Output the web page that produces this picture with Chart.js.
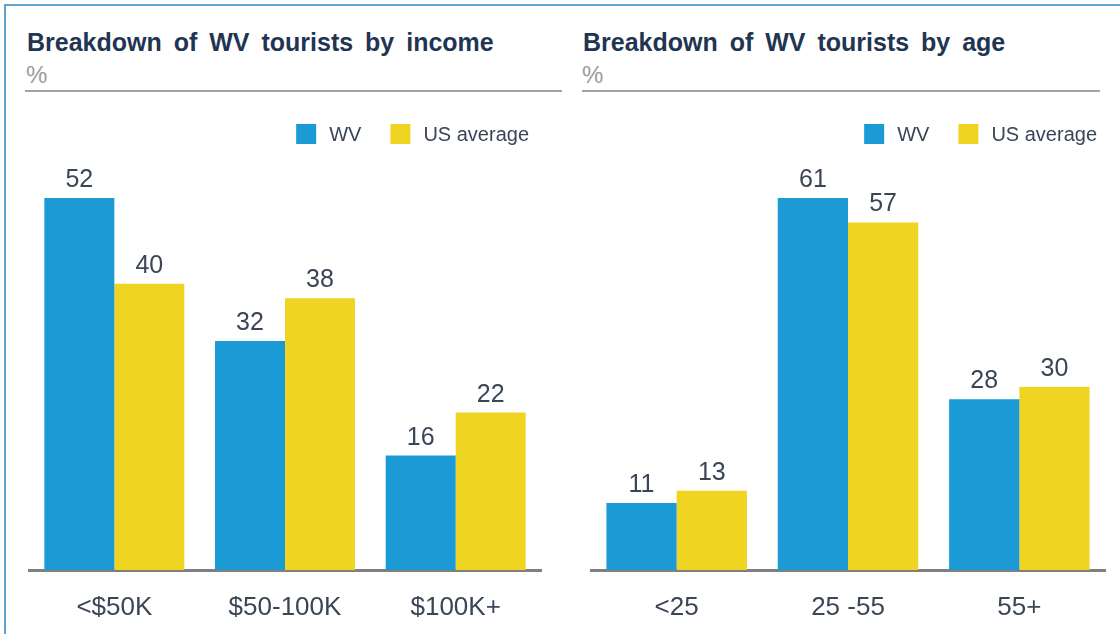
<!DOCTYPE html>
<html>
<head>
<meta charset="utf-8">
<script src="https://cdn.jsdelivr.net/npm/chart.js@4/dist/chart.umd.min.js"></script>
<style>
  html, body { margin:0; padding:0; background:#fff; }
  body { width:1120px; height:634px; position:relative; overflow:hidden; font-family:"Liberation Sans", Arial, sans-serif; }
  .frame { position:absolute; left:4px; top:4px; width:1200px; height:700px; border:2px solid #5ba5d1; box-sizing:border-box; }
  .title { position:absolute; font-weight:bold; font-size:25px; line-height:25px; letter-spacing:0; word-spacing:5px; color:#1f3552; white-space:nowrap; }
  .unit { position:absolute; font-size:24px; line-height:24px; color:#9b9b9b; }
  .rule { position:absolute; height:2px; background:#a3a3a3; top:90px; }
  .wrap { position:absolute; top:100px; width:545px; height:534px; }
</style>
</head>
<body>
<div class="frame"></div>
<div class="title" style="left:27px; top:30px;">Breakdown of WV tourists by income</div>
<div class="unit" style="left:26px; top:63px;">%</div>
<div class="rule" style="left:25px; width:537px;"></div>
<div class="title" style="left:583px; top:30px;">Breakdown of WV tourists by age</div>
<div class="unit" style="left:582px; top:63px;">%</div>
<div class="rule" style="left:582px; width:518px;"></div>
<div class="wrap" style="left:20px;"><canvas id="c1" width="545" height="534"></canvas></div>
<div class="wrap" style="left:575px;"><canvas id="c2" width="545" height="534"></canvas></div>
<script>
const incomeCategories = ['<$50K', '$50-100K', '$100K+'];
const incomeWV = [52, 32, 16];
const incomeUS = [40, 38, 22];

const ageCategories = ['<25', '25 -55', '55+'];
const ageWV = [11, 61, 28];
const ageUS = [13, 57, 30];

const seriesNames = ['WV', 'US average'];

const BLUE = '#1c9ad6';
const YELLOW = '#efd522';
const TEXT = '#3a4556';
const FONT = '"Liberation Sans", Arial, sans-serif';
const HEADROOM = 1.2554;

const valueLabels = {
  id: 'valueLabels',
  afterDatasetsDraw(chart) {
    const ctx = chart.ctx;
    ctx.save();
    ctx.font = '25px ' + FONT;
    ctx.fillStyle = TEXT;
    ctx.textAlign = 'center';
    ctx.textBaseline = 'alphabetic';
    chart.data.datasets.forEach((ds, di) => {
      chart.getDatasetMeta(di).data.forEach((bar, i) => {
        ctx.fillText(String(ds.data[i]), bar.x, bar.y - 11);
      });
    });
    ctx.restore();
  }
};

const boxLegend = {
  id: 'boxLegend',
  afterDraw(chart, args, opts) {
    const ctx = chart.ctx;
    ctx.save();
    ctx.font = '20px ' + FONT;
    const box = 20, gapText = 13, gapItem = 29;
    const items = chart.data.datasets.map(ds => ({ text: ds.label, color: ds.backgroundColor, w: ctx.measureText(ds.label).width }));
    let total = 0;
    items.forEach((it, i) => { total += box + gapText + it.w + (i < items.length - 1 ? gapItem : 0); });
    let x = chart.chartArea.right - opts.rightOffset - total;
    const y = opts.top;
    items.forEach(it => {
      ctx.fillStyle = it.color;
      ctx.fillRect(x, y, box, box);
      ctx.fillStyle = TEXT;
      ctx.textAlign = 'left';
      ctx.textBaseline = 'middle';
      ctx.fillText(it.text, x + box + gapText, y + box / 2 + 1);
      x += box + gapText + it.w + gapItem;
    });
    ctx.restore();
  }
};

function makeChart(id, cats, wv, us, padLeft, padRight, legendRight) {
  const maxV = Math.max(...wv, ...us);
  return new Chart(document.getElementById(id), {
    type: 'bar',
    data: {
      labels: cats,
      datasets: [
        { label: seriesNames[0], data: wv, backgroundColor: BLUE, borderWidth: 0 },
        { label: seriesNames[1], data: us, backgroundColor: YELLOW, borderWidth: 0 }
      ]
    },
    options: {
      responsive: false,
      animation: false,
      layout: { padding: { top: 3, left: padLeft, right: padRight, bottom: 0 } },
      datasets: { bar: { categoryPercentage: 0.82, barPercentage: 1.0 } },
      plugins: {
        tooltip: { enabled: false },
        legend: { display: false },
        boxLegend: { top: 24, rightOffset: legendRight }
      },
      scales: {
        x: {
          grid: { display: false, drawTicks: false },
          border: { display: true, color: '#7f7f7f', width: 3 },
          ticks: { color: TEXT, padding: 22, maxRotation: 0, font: { family: FONT, size: 26 } },
          afterFit(axis) { axis.height = 64; }
        },
        y: { display: false, min: 0, max: maxV * HEADROOM }
      }
    },
    plugins: [valueLabels, boxLegend]
  });
}

makeChart('c1', incomeCategories, incomeWV, incomeUS, 9, 24, 12);
makeChart('c2', ageCategories, ageWV, ageUS, 16, 15, 8);
</script>
</body>
</html>
